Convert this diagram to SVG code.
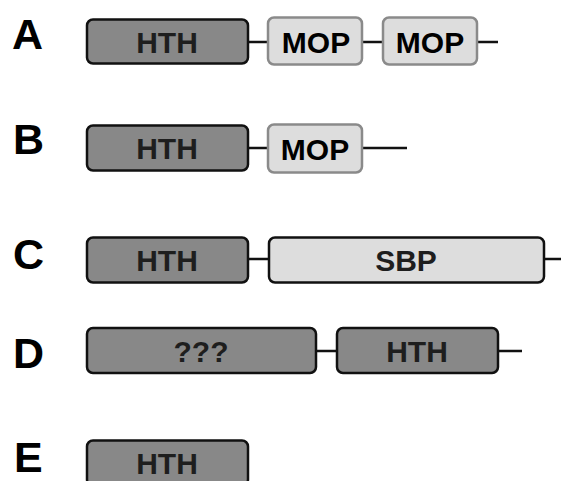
<svg xmlns="http://www.w3.org/2000/svg" width="561" height="481" viewBox="0 0 561 481">
  <style>
    .lbl { font-family: "Liberation Sans", Arial, sans-serif; font-weight: bold; font-size: 43px; fill: #000; }
    .hth { fill: #888888; stroke: #111111; stroke-width: 2.5; }
    .mop { fill: #dddddd; stroke: #8a8a8a; stroke-width: 2.5; }
    .sbp { fill: #dddddd; stroke: #111111; stroke-width: 2.5; }
    .t { font-family: "Liberation Sans", Arial, sans-serif; font-weight: bold; font-size: 30px; text-anchor: middle; }
    .td { fill: #1e1e1e; }
    .tl { fill: #000000; }
    .link { stroke: #111111; stroke-width: 2.5; fill: none; }
  </style>
  <rect width="561" height="481" fill="#ffffff"/>

  <!-- row labels -->
  <g id="labels">
    <text class="lbl" x="12" y="49">A</text>
    <text class="lbl" x="13" y="154">B</text>
    <text class="lbl" x="13" y="269">C</text>
    <text class="lbl" x="13" y="368">D</text>
    <text class="lbl" x="14" y="472">E</text>
  </g>

  <!-- linker segments between domains -->
  <g id="connectors">
    <path class="link" d="M248 42H268 M362 42H383 M477 42H498"/>
    <path class="link" d="M248 148H268 M362 148H407"/>
    <path class="link" d="M248 259H269 M544 259H561"/>
    <path class="link" d="M316 351H337 M498 351H522"/>
  </g>

  <!-- A: HTH-MOP-MOP -->
  <g id="A-hth">
    <rect class="hth" x="87" y="19.5" width="161" height="44" rx="6"/>
    <text class="t td" x="167" y="53">HTH</text>
  </g>
  <g id="A-mop1">
    <rect class="mop" x="268" y="17.5" width="94" height="47" rx="6"/>
    <text class="t tl" x="316" y="53">MOP</text>
  </g>
  <g id="A-mop2">
    <rect class="mop" x="383" y="17.5" width="94" height="47" rx="6"/>
    <text class="t tl" x="430" y="53">MOP</text>
  </g>

  <!-- B: HTH-MOP -->
  <g id="B-hth">
    <rect class="hth" x="87" y="125.5" width="161" height="45" rx="6"/>
    <text class="t td" x="167" y="159">HTH</text>
  </g>
  <g id="B-mop">
    <rect class="mop" x="268" y="124.5" width="94" height="48" rx="6"/>
    <text class="t tl" x="315" y="160">MOP</text>
  </g>

  <!-- C: HTH-SBP -->
  <g id="C-hth">
    <rect class="hth" x="87" y="237.5" width="161" height="45" rx="6"/>
    <text class="t td" x="167" y="271">HTH</text>
  </g>
  <g id="C-sbp">
    <rect class="sbp" x="269" y="237.5" width="275" height="45" rx="6"/>
    <text class="t td" x="406" y="271">SBP</text>
  </g>

  <!-- D: ???-HTH -->
  <g id="D-unk">
    <rect class="hth" x="87" y="328" width="229" height="45" rx="6"/>
    <text class="t td" x="201" y="362">???</text>
  </g>
  <g id="D-hth">
    <rect class="hth" x="337" y="328" width="161" height="45" rx="6"/>
    <text class="t td" x="417" y="362">HTH</text>
  </g>

  <!-- E: HTH only -->
  <g id="E-hth">
    <rect class="hth" x="87" y="440.5" width="161" height="45" rx="6"/>
    <text class="t td" x="167" y="474">HTH</text>
  </g>
</svg>
